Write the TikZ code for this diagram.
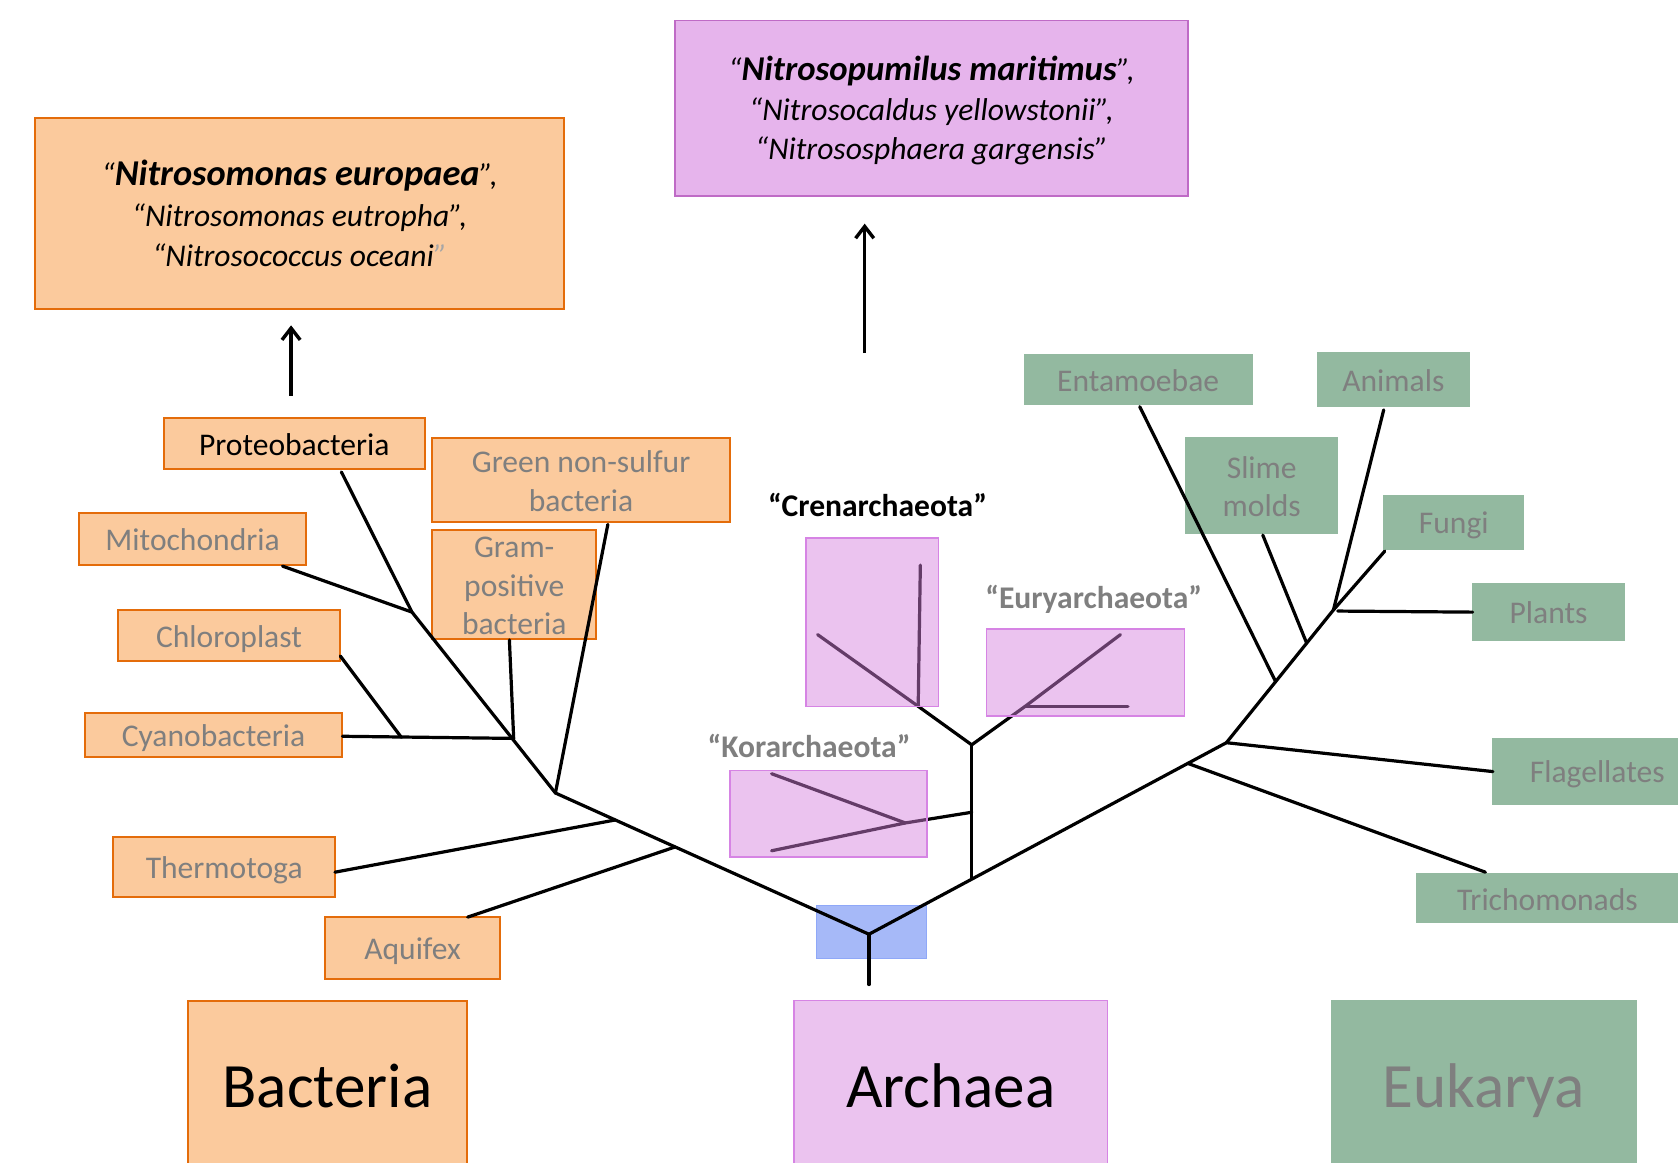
\documentclass[tikz,border=0pt]{standalone}
\usepackage{fontspec}
\setmainfont{Carlito}
\usetikzlibrary{arrows.meta,calc}
\definecolor{orfill}{HTML}{FBCA9D}
\definecolor{ordraw}{HTML}{E46C0A}
\definecolor{pufill}{HTML}{E6B4EC}
\definecolor{pudraw}{HTML}{BF6BC6}
\definecolor{arfill}{HTML}{EBC3EF}
\definecolor{ardraw}{HTML}{D684E4}
\definecolor{ovfill}{RGB}{213,128,222}
\definecolor{eufill}{HTML}{93B9A0}
\definecolor{txtgray}{HTML}{7F7F7F}
\definecolor{qgray}{HTML}{A6A6A6}
\definecolor{blfill}{HTML}{A6B9F8}
\definecolor{bldraw}{HTML}{8FA8F8}
% strut for labels in boxes (baseline 0.385em below centre)
\newcommand\mystrutA{\rule[-0.115em]{0pt}{1em}}
% strut with extra room on top (pushes text down inside a box)
\newcommand\mystrutT[1]{\rule[-0.25em]{0pt}{\dimexpr 1em+#1\relax}}
\newcommand\mystrutB{\rule[-0.25em]{0pt}{1em}}
\begin{document}
\begin{tikzpicture}[x=1pt,y=-1pt,
  lab/.style={font=\fontsize{29.5}{36}\selectfont, align=center, inner sep=0pt},
  bbox/.style={lab, fill=orfill, draw=ordraw, line width=1.8pt, text=txtgray},
  ebox/.style={lab, fill=eufill, draw=eufill, line width=0.8pt, text=txtgray},
  bigbox/.style={inner sep=0pt, font=\fontsize{59}{70}\selectfont},
  grouplabel/.style={inner sep=0pt, font=\fontsize{29.5}{36}\selectfont\bfseries},
  branch/.style={line width=3pt, line cap=round, line join=round},
  ovl/.style={draw=ardraw, line width=1.5pt, fill=ovfill, fill opacity=0.47},
  uparrow/.style={line width=3.2pt, -{Straight Barb[length=11pt,width=17pt]}},
]
\useasboundingbox (0,0) rectangle (1568,1086);
\clip (0,0) rectangle (1568,1086);

% ---------- top boxes ----------
\node[bbox, text=black, minimum width=494, minimum height=179,
      font=\fontsize{29.5}{38}\selectfont] (nitA) at (280,199.5)
  {\mystrutT{9pt}{\itshape “}{\fontsize{34}{38}\selectfont\bfseries\itshape Nitrosomonas europaea}{\itshape ”,}\\
   \itshape “Nitrosomonas eutropha”,\\
   \mystrutB\itshape “Nitrosococcus oceani{\color{qgray}”}};
\node[lab, fill=pufill, draw=pudraw, line width=1.5pt, text=black,
      minimum width=479, minimum height=164,
      font=\fontsize{29.5}{37}\selectfont] (nitB) at (870.5,101)
  {\mystrutT{8pt}{\itshape “}{\fontsize{32.5}{37}\selectfont\bfseries\itshape Nitrosopumilus maritimus}{\itshape ”,}\\
   \itshape “Nitrosocaldus yellowstonii”,\\
   \mystrutB\itshape “Nitrososphaera gargensis”};

% ---------- bacteria labels ----------
\node[bbox, text=black, minimum width=244, minimum height=47] (proteo) at (275,414.5) {\mystrutA Proteobacteria};
\node[bbox, minimum width=278, minimum height=79] (gns) at (543,448.5) {\mystrutA Green non-sulfur\\ \mystrutA bacteria};
\node[bbox, minimum width=212, minimum height=49] (mito) at (180,503.5) {\mystrutA Mitochondria};
\node[bbox, minimum width=153, minimum height=96] (gram) at (480.5,546) {\mystrutA Gram-\\ \mystrutA positive\\ \mystrutA bacteria};
\node[bbox, minimum width=208, minimum height=48] (chloro) at (214,594) {\mystrutA Chloroplast};
\node[bbox, minimum width=241, minimum height=41] (cyano) at (199.5,686.5) {\mystrutA Cyanobacteria};
\node[bbox, minimum width=207, minimum height=56] (thermo) at (209.5,810) {\mystrutA Thermotoga};
\node[bbox, minimum width=163, minimum height=58] (aquif) at (385.5,886) {\mystrutA Aquifex};

% ---------- eukarya labels ----------
\node[ebox, minimum width=213, minimum height=47] (ent) at (1063.5,354.5) {\mystrutA Entamoebae};
\node[ebox, minimum width=142, minimum height=51] (anim) at (1302,354.5) {\mystrutA Animals};
\node[ebox, minimum width=142, minimum height=89] (slime) at (1179,453.5) {\mystrutA Slime\\ \mystrutA molds};
\node[ebox, minimum width=131, minimum height=50] (fungi) at (1358.5,488) {\mystrutA Fungi};
\node[ebox, minimum width=142, minimum height=53] (plants) at (1447,571.5) {\mystrutA Plants};
\node[ebox, minimum width=195, minimum height=62] (flag) at (1492.5,721) {\mystrutA Flagellates};
\node[ebox, minimum width=244, minimum height=46] (trich) at (1446,839) {\mystrutA Trichomonads};

% ---------- bottom domain boxes ----------
\node[bigbox, fill=orfill, draw=ordraw, line width=1.8pt, minimum width=260, minimum height=176] (bact) at (306,1023) {\rule[-0.3em]{0pt}{1em}Bacteria};
\node[bigbox, fill=arfill, draw=ardraw, line width=1.5pt, minimum width=293, minimum height=176] (arch) at (888.5,1023) {\rule[-0.3em]{0pt}{1em}Archaea};
\node[bigbox, fill=eufill, draw=eufill, text=txtgray, minimum width=285, minimum height=176] (euk) at (1386.5,1023) {\rule[-0.3em]{0pt}{1em}Eukarya};

% ---------- root box ----------
\node[fill=blfill, draw=bldraw, line width=1pt, minimum width=103, minimum height=50, inner sep=0pt] (rootbox) at (814.5,871) {};

% ---------- tree coordinates ----------
\coordinate (root) at (812,873);
\coordinate (rootlow) at (812,920);
% bacteria
\coordinate (b3) at (519,741);
\coordinate (b1) at ($(root)!0.618!(b3)$);
\coordinate (b2) at ($(root)!0.809!(b3)$);
\coordinate (bm) at (385,572);
\coordinate (bc) at (480,690);
\coordinate (bcl) at (375,689);
\coordinate (aqE) at (437,857);
\coordinate (thE) at (313,815);
\coordinate (gnE) at (568,490);
\coordinate (prE) at (319,441);
\coordinate (miE) at (264,529);
\coordinate (cyE) at (320,688);
\coordinate (chE) at (318,613);
\coordinate (gpE) at (476,598);
% archaea / eukarya trunk
\coordinate (e0) at (1146,694);
\coordinate (a1) at (908,821.6);
\coordinate (a2) at (908,696);
\coordinate (ak) at (908,759);
\coordinate (kj) at (846,769);
\coordinate (kE1) at (721,723);
\coordinate (kE2) at (721,795);
\coordinate (cj) at (858,660);
\coordinate (cE1) at (860,528);
\coordinate (cE2) at (764,593);
\coordinate (ej) at (958,660);
\coordinate (eE1) at (1047,593);
\coordinate (eE2) at (1054,660);
% eukarya
\coordinate (e3) at (1246,570);
\coordinate (e1) at ($(e0)!0.46!(e3)$);
\coordinate (e2) at ($(e0)!0.75!(e3)$);
\coordinate (et) at ($(root)!0.892!(e0)$);
\coordinate (enE) at (1065,380);
\coordinate (slE) at (1180,500);
\coordinate (anE) at (1293,383);
\coordinate (fuE) at (1294,515);
\coordinate (plS) at (1250,571);
\coordinate (plE) at (1376,572);
\coordinate (flE) at (1395,721);
\coordinate (trE) at (1388,815);

% ---------- branches ----------
\draw[branch] (rootlow) -- (root);
\draw[branch] (root) -- (b3) -- (bm) -- (prE);
\draw[branch] (b1) -- (aqE);
\draw[branch] (b2) -- (thE);
\draw[branch] (b3) -- (gnE);
\draw[branch] (bm) -- (miE);
\draw[branch] (bc) -- (cyE);
\draw[branch] (bcl) -- (chE);
\draw[branch] (bc) -- (gpE);
\draw[branch] (root) -- (e0);
\draw[branch] (a1) -- (a2);
\draw[branch] (ak) -- (kj) -- (kE2);
\draw[branch] (kj) -- (kE1);
\draw[branch] (a2) -- (cj) -- (cE2);
\draw[branch] (cj) -- (cE1);
\draw[branch] (a2) -- (ej) -- (eE1);
\draw[branch] (ej) -- (eE2);
\draw[branch] (e0) -- (e3);
\draw[branch] (e1) -- (enE);
\draw[branch] (e2) -- (slE);
\draw[branch] (e3) -- (anE);
\draw[branch] (e3) -- (fuE);
\draw[branch] (plS) -- (plE);
\draw[branch] (e0) -- (flE);
\draw[branch] (et) -- (trE);

% ---------- archaea overlays ----------
\path[ovl] (753,503) rectangle (877,660);
\path[ovl] (922,588) rectangle (1107,669);
\path[ovl] (682,720) rectangle (866,801);

\node[grouplabel, text=black] (crenL) at (820,475) {\mystrutB“Crenarchaeota”};
\node[grouplabel, text=txtgray] (euryL) at (1022,561) {\mystrutB“Euryarchaeota”};
\node[grouplabel, text=txtgray] (korL) at (756,700) {\mystrutB“Korarchaeota”};

% ---------- arrows ----------
\coordinate (arA1) at (272,370);
\coordinate (arA2) at (272,304);
\coordinate (arB1) at (808,330);
\coordinate (arB2) at (808,209);
\draw[uparrow] (arA1) -- (arA2);
\draw[uparrow] (arB1) -- (arB2);
\end{tikzpicture}
\end{document}
